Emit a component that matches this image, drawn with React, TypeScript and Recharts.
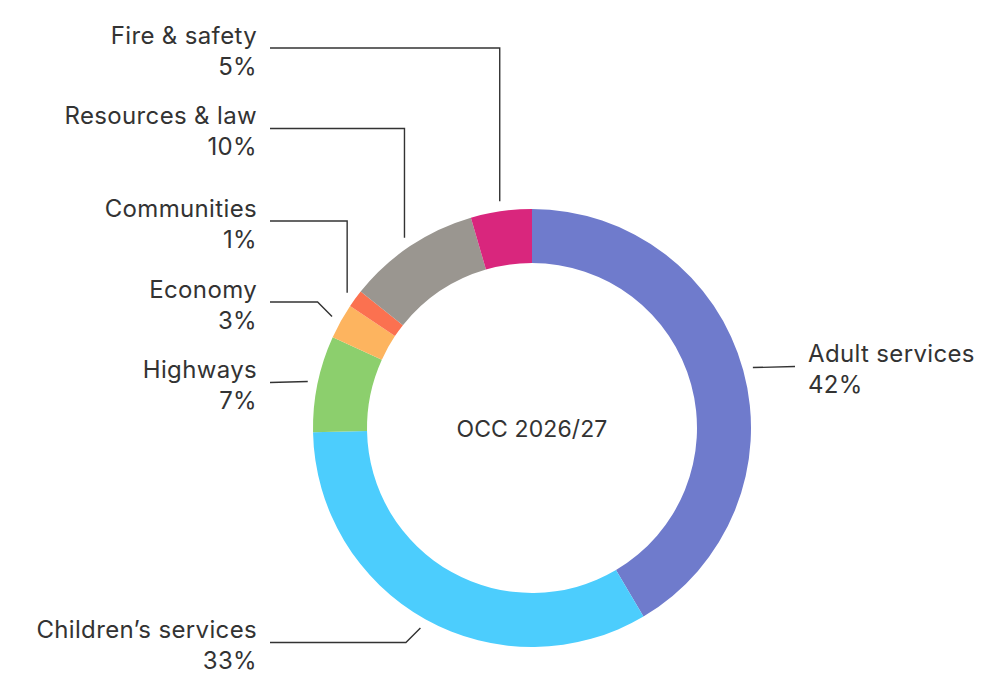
import React from "react";
import { PieChart, Pie, Cell } from "recharts";

const categories = [
  "Adult services",
  "Children\u2019s services",
  "Highways",
  "Economy",
  "Communities",
  "Resources & law",
  "Fire & safety",
];
const values = [41.5, 33.2, 7.1, 2.6, 1.3, 9.8, 4.5];
const percentLabels = ["42%", "33%", "7%", "3%", "1%", "10%", "5%"];
const colors = ["#6f7bcc", "#4ccdfd", "#8ccf6d", "#fdb45f", "#fb7150", "#9a9690", "#d9267d"];
const centerTitle = "OCC 2026/27";

const data = categories.map((name, i) => ({ name, value: values[i], pct: percentLabels[i] }));

// label layout (annotation rows)
const labelLineY: Record<string, number> = {
  "Adult services": 366.5,
  "Children\u2019s services": 642.5,
  Highways: 382.5,
  Economy: 302,
  Communities: 221,
  "Resources & law": 128.5,
  "Fire & safety": 48,
};

const FONT = "Inter, 'Liberation Sans', Arial, sans-serif";
const TEXT = "#333333";
const RAD = Math.PI / 180;
const FS = 24;
const LS = 0.35;

const renderLabel = (props: any) => {
  const { cx, cy, midAngle, outerRadius, index } = props;
  const d = data[index];
  const r = outerRadius + 10;
  const px = cx + r * Math.cos(-midAngle * RAD);
  const py = cy + r * Math.sin(-midAngle * RAD);
  const right = px > cx;
  const ly = labelLineY[d.name];
  const hx = right ? 795 : 270;
  const dy = ly - py;
  let pts: [number, number][];
  if (Math.abs(dy) < 3) {
    pts = [[px, py], [hx, ly]];
  } else if (Math.abs(dy) <= 30) {
    const ex = right ? px + Math.abs(dy) : px - Math.abs(dy);
    pts = [[px, py], [ex, ly], [hx, ly]];
  } else {
    pts = [[px, py], [px, ly], [hx, ly]];
  }
  const path = pts.map((p, i) => `${i === 0 ? "M" : "L"}${p[0]},${p[1]}`).join(" ");
  const tx = right ? 808 : 257;
  const anchor = right ? "start" : "end";
  return (
    <g key={`lbl-${index}`}>
      <path d={path} stroke="#333" strokeWidth={1.4} fill="none" />
      <text x={tx} y={ly - 4.5} textAnchor={anchor} fontFamily={FONT} fontSize={FS} letterSpacing={LS} fill={TEXT}>
        {d.name}
      </text>
      <text x={tx} y={ly + 26.5} textAnchor={anchor} fontFamily={FONT} fontSize={FS} letterSpacing={LS} fill={TEXT}>
        {d.pct}
      </text>
      {index === 0 ? (
        <text x={cx} y={cy + 9} textAnchor="middle" fontFamily={FONT} fontSize={23} letterSpacing={0.1} fill={TEXT}>
          {centerTitle}
        </text>
      ) : null}
    </g>
  );
};

export default function App() {
  return (
    <div style={{ position: "absolute", left: 0, top: 0, width: 1000, height: 696, background: "#fff" }}>
      <PieChart width={1000} height={696} margin={{ top: 0, right: 0, bottom: 0, left: 0 }}>
        <Pie
          data={data}
          dataKey="value"
          nameKey="name"
          cx={532}
          cy={428}
          innerRadius={165}
          outerRadius={219}
          startAngle={90}
          endAngle={-270}
          stroke="none"
          label={renderLabel}
          labelLine={false}
          isAnimationActive={false}
        >
          {data.map((d, i) => (
            <Cell key={d.name} fill={colors[i]} />
          ))}
        </Pie>
      </PieChart>
    </div>
  );
}
